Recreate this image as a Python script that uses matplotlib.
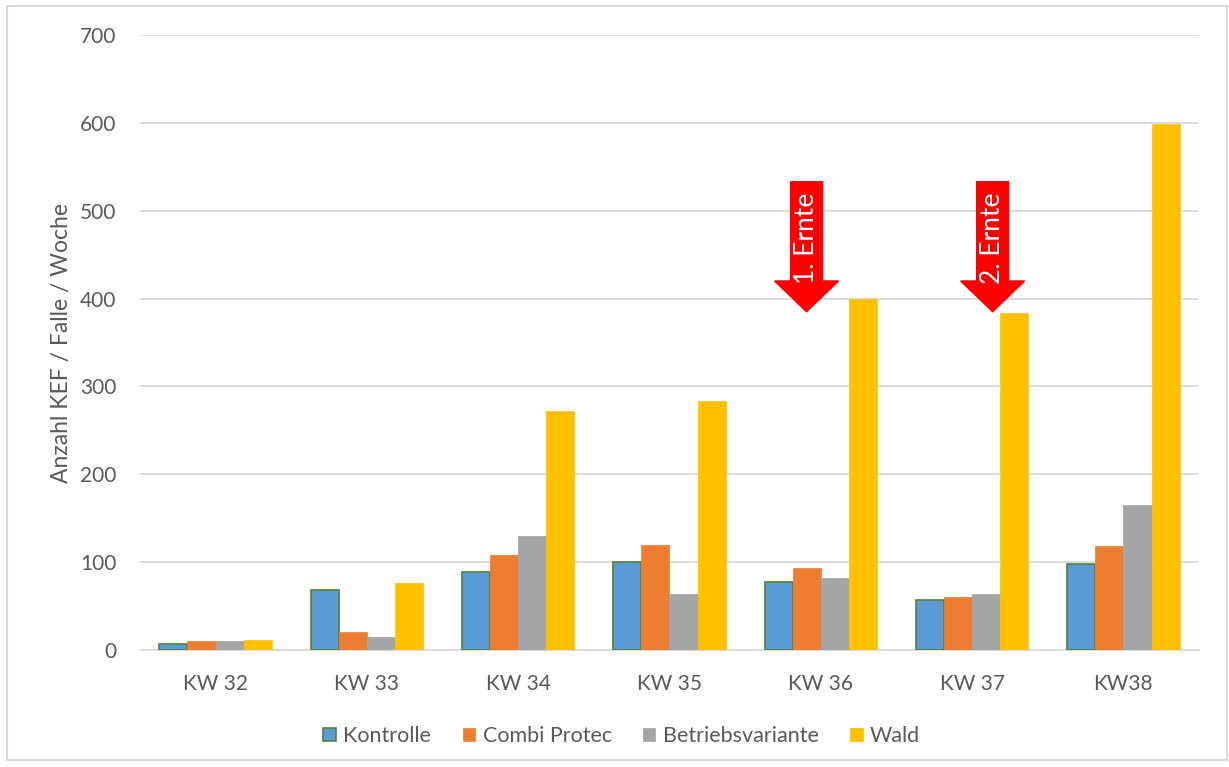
import numpy as np
from matplotlib import pyplot as plt
from matplotlib.patches import Rectangle, FancyArrow

weeks = ["KW 32", "KW 33", "KW 34", "KW 35", "KW 36", "KW 37", "KW38"]
kontrolle = [7, 68, 89, 100, 77, 57, 98]
combi = [10, 20, 108, 120, 93, 60, 118]
betrieb = [10, 15, 130, 64, 82, 64, 165]
wald = [11, 76, 272, 283, 400, 384, 599]

series = [("Kontrolle", kontrolle, "#5B9BD5", "#548235"),
          ("Combi Protec", combi, "#ED7D31", "#ED7D31"),
          ("Betriebsvariante", betrieb, "#A5A5A5", "#A5A5A5"),
          ("Wald", wald, "#FFC000", "#FFC000")]

# harvest markers: (category position, label)
ernte_x = [3.906, 5.136]
ernte_txt = ["1. Ernte", "2. Ernte"]

plt.rcParams['font.family'] = ['Lato', 'DejaVu Sans']
grey = "#595959"

fig = plt.figure(figsize=(12.29, 7.67), dpi=100)
ax = fig.add_axes([0.1139, 0.1525, 0.8617, 0.8019])

x = np.arange(len(weeks))
w = 0.186
for i, (name, vals, col, edge) in enumerate(series):
    ax.bar(x + (i - 1.5) * w, vals, w, color=col, edgecolor=edge,
           linewidth=1.2 if i == 0 else 0.5, label=name, zorder=3)

ax.set_xlim(-0.5, len(weeks) - 0.5)
ax.set_ylim(0, 700)
ax.set_yticks(range(0, 701, 100))
ax.set_xticks(x)
ax.set_xticklabels(weeks)
ax.grid(axis="y", color="#d9d9d9", linewidth=1.3, zorder=0)
for s in ["top", "right", "left"]:
    ax.spines[s].set_visible(False)
ax.spines["bottom"].set_color("#d9d9d9")
ax.spines["bottom"].set_linewidth(1.3)
ax.tick_params(length=0, colors=grey, labelsize=15)
ax.tick_params(axis="y", pad=17)
ax.tick_params(axis="x", pad=17)
ax.set_ylabel("Anzahl KEF / Falle / Woche", color=grey, fontsize=16.5)
ax.yaxis.set_label_coords(-0.064, 0.5)

for ex, txt in zip(ernte_x, ernte_txt):
    arr = FancyArrow(ex, 533, 0, -148, width=0.211, head_width=0.423,
                     head_length=35, length_includes_head=True,
                     color="#FF0000", zorder=5)
    ax.add_patch(arr)
    ax.text(ex, 469, txt, rotation=90, ha="center", va="center",
            color="white", fontsize=19, zorder=6)

leg = ax.legend(loc="center", bbox_to_anchor=(0.455, -0.14), ncol=4,
                frameon=False, fontsize=15.5, handlelength=0.58, handleheight=0.58,
                handletextpad=0.35, columnspacing=1.45)
for t in leg.get_texts():
    t.set_color(grey)

fig.patches.append(Rectangle((0.006, 0.009), 0.992, 0.983, transform=fig.transFigure,
                             fill=False, edgecolor="#d9d9d9", linewidth=1.5))

plt.savefig("out.png", dpi=100)
